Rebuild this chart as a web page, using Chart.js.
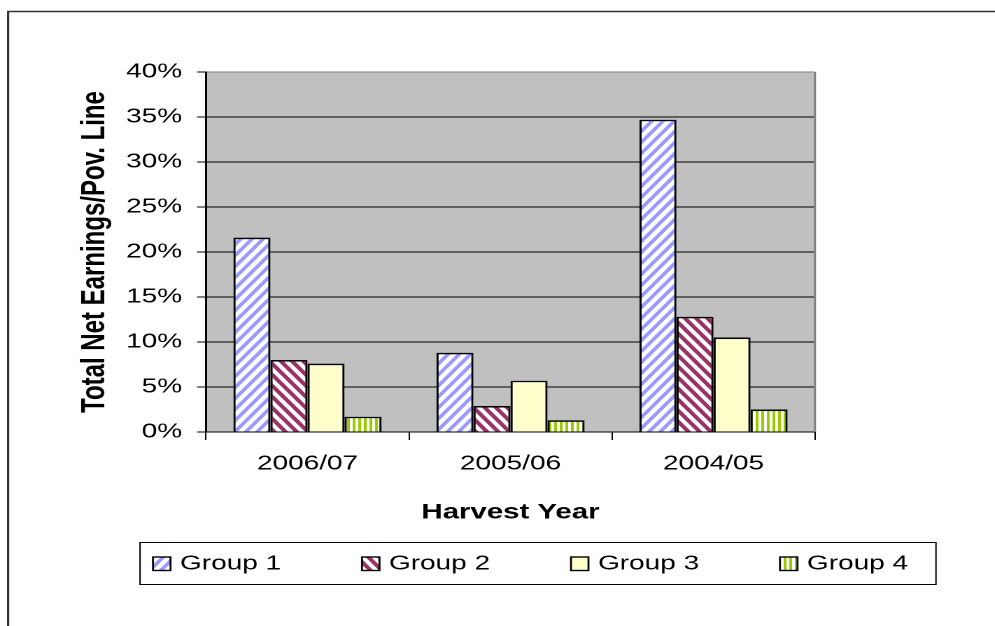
<!DOCTYPE html>
<html>
<head>
<meta charset="utf-8">
<script src="https://cdn.jsdelivr.net/npm/chart.js@4.4.1/dist/chart.umd.min.js"></script>
<style>
html, body { margin: 0; padding: 0; background: #fff; overflow: hidden; }
/* the reference chart is stretched sideways, so the canvas is too */
#wrap { width: 711px; height: 626px; transform: scaleX(1.3994); transform-origin: 0 0; }
</style>
</head>
<body>
<div id="wrap"><canvas id="myChart" width="711" height="626"></canvas></div>
<script>
var years = ['2006/07', '2005/06', '2004/05'];
var groupNames = ['Group 1', 'Group 2', 'Group 3', 'Group 4'];
var group1 = [0.216, 0.088, 0.347];
var group2 = [0.080, 0.029, 0.128];
var group3 = [0.076, 0.057, 0.105];
var group4 = [0.017, 0.013, 0.025];
var yTicks = [0, 0.05, 0.10, 0.15, 0.20, 0.25, 0.30, 0.35, 0.40];

var SX = 995 / 711;
var FONT = "'Liberation Sans', Arial, sans-serif";

// striped fill, drawn at 2x and scaled back so it stays sharp
function stripes(w, h, color, dir, share) {
    var W = w * 2, H = h * 2;
    var c = document.createElement('canvas');
    c.width = W; c.height = H;
    var g = c.getContext('2d');
    var img = g.createImageData(W, H);
    var col = [parseInt(color.substr(1, 2), 16), parseInt(color.substr(3, 2), 16), parseInt(color.substr(5, 2), 16)];
    for (var py = 0; py < H; py++) {
        for (var px = 0; px < W; px++) {
            var hit = 0;
            for (var sy = 0; sy < 4; sy++) {
                for (var sx = 0; sx < 4; sx++) {
                    var x = (px + (sx + 0.5) / 4) / W;
                    var y = (py + (sy + 0.5) / 4) / H;
                    var u = dir === 0 ? x : (dir > 0 ? x + y : x - y);
                    u = u - Math.floor(u);
                    if (u < share) hit++;
                }
            }
            var t = hit / 16;
            var i = (py * W + px) * 4;
            img.data[i] = Math.round(255 + (col[0] - 255) * t);
            img.data[i + 1] = Math.round(255 + (col[1] - 255) * t);
            img.data[i + 2] = Math.round(255 + (col[2] - 255) * t);
            img.data[i + 3] = 255;
        }
    }
    g.putImageData(img, 0, 0);
    var p = g.createPattern(c, 'repeat');
    p.setTransform(new DOMMatrix().scale(0.5));
    return p;
}

var fills = [
    stripes(8, 11, '#9999FF', 1, 0.45),
    stripes(8, 11, '#993366', -1, 0.5),
    '#FFFFCC',
    stripes(4, 4, '#99CC00', 0, 0.5)
];

var chartBack = {
    id: 'chartBack',
    beforeDraw: function (chart) {
        var ctx = chart.ctx, a = chart.chartArea;
        ctx.save();
        ctx.fillStyle = '#fff';
        ctx.fillRect(0, 0, chart.width, chart.height);
        ctx.fillStyle = '#C0C0C0';
        ctx.fillRect(a.left, a.top, a.right - a.left, a.bottom - a.top);
        ctx.strokeStyle = '#333';
        ctx.lineWidth = 1.6;
        ctx.beginPath();
        ctx.moveTo(5.8, 626);
        ctx.lineTo(5.8, 11.5);
        ctx.lineTo(711, 11.5);
        ctx.stroke();
        ctx.restore();
    },
    beforeDatasetsDraw: function (chart) {
        var ctx = chart.ctx, a = chart.chartArea;
        ctx.save();
        ctx.strokeStyle = '#808080';
        ctx.lineWidth = 1.5;
        ctx.beginPath();
        ctx.moveTo(a.right, a.top);
        ctx.lineTo(a.right, a.bottom);
        ctx.stroke();
        ctx.restore();
    }
};

var boxLegend = {
    id: 'boxLegend',
    afterDraw: function (chart) {
        var ctx = chart.ctx;
        ctx.save();
        ctx.strokeStyle = '#000';
        ctx.lineWidth = 1;
        ctx.strokeRect(140 / SX, 542.5, (936 - 140) / SX, 42);
        ctx.font = '20px ' + FONT;
        ctx.textBaseline = 'middle';
        ctx.fillStyle = '#000';
        chart.data.datasets.forEach(function (ds, i) {
            var mx = (153 + 209 * i) / SX;
            ctx.fillStyle = ds.backgroundColor;
            ctx.fillRect(mx, 557, 12.5, 13.5);
            ctx.lineWidth = 1.4;
            ctx.strokeStyle = '#000';
            ctx.strokeRect(mx, 557, 12.5, 13.5);
            ctx.fillStyle = '#000';
            ctx.fillText(ds.label, (180 + 209 * i) / SX, 564);
        });
        ctx.restore();
    }
};

var groups = [group1, group2, group3, group4];
var datasets = groups.map(function (vals, i) {
    return {
        label: groupNames[i],
        data: vals,
        backgroundColor: fills[i],
        borderColor: '#000',
        borderWidth: 1.6,
        categoryPercentage: 0.73,
        barPercentage: 1
    };
});

new Chart(document.getElementById('myChart'), {
    type: 'bar',
    data: { labels: years, datasets: datasets },
    options: {
        responsive: false,
        animation: false,
        devicePixelRatio: 2,
        layout: { padding: { left: 0, top: 72, right: 711 - 815 / SX, bottom: 94 } },
        plugins: { legend: { display: false }, tooltip: { enabled: false } },
        scales: {
            x: {
                ticks: { color: '#000', font: { family: FONT, size: 20 }, padding: 12 },
                grid: { drawOnChartArea: false, drawTicks: true, tickLength: 8, color: '#000', offset: true },
                border: { color: '#000', width: 1 },
                title: {
                    display: true, text: 'Harvest Year', color: '#000',
                    font: { family: FONT, size: 21, weight: 'bold' },
                    padding: { top: 0, bottom: 6.5 }
                },
                afterFit: function (s) { s.height = 100; }
            },
            y: {
                min: 0,
                max: 0.4,
                afterBuildTicks: function (s) {
                    s.ticks = yTicks.map(function (v) { return { value: v }; });
                },
                ticks: {
                    color: '#000', font: { family: FONT, size: 20 }, padding: 10.7,
                    callback: function (v) { return Math.round(v * 100) + '%'; }
                },
                grid: {
                    color: function (c) { return c.tick && c.tick.value >= 0.399 ? '#808080' : '#000'; },
                    tickColor: '#000',
                    tickLength: 6.4,
                    lineWidth: 1
                },
                border: { color: '#000', width: 1.5 },
                title: {
                    display: true, text: 'Total Net Earnings/Pov. Line', color: '#000',
                    font: { family: FONT, size: 24, weight: 'bold' },
                    padding: { top: 53.5, bottom: 0 }
                },
                afterFit: function (s) { s.width = 206 / SX; }
            }
        }
    },
    plugins: [chartBack, boxLegend]
});
</script>
</body>
</html>
